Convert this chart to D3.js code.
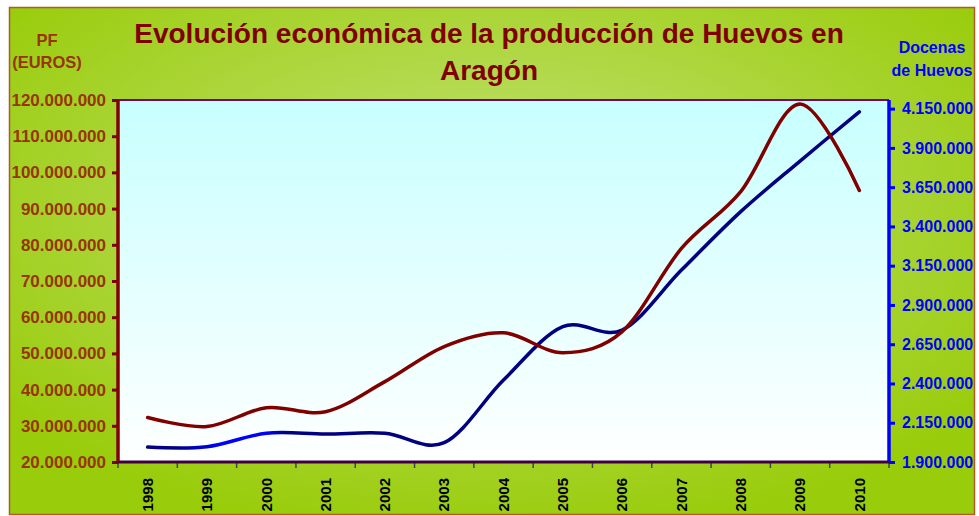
<!DOCTYPE html>
<html lang="es">
<head>
  <meta charset="UTF-8">
  <title>Evolución económica de la producción de Huevos en Aragón</title>
  <script src="https://d3js.org/d3.v7.min.js"></script>
  <style>
    body { margin: 0; background: #fff; }
    text { font-family: "Liberation Sans", Arial, sans-serif; font-weight: bold; }
  </style>
</head>
<body>
  <svg id="chart" width="979" height="516"></svg>

  <script>
    // Data
    const years = ["1998", "1999", "2000", "2001", "2002", "2003", "2004",
                   "2005", "2006", "2007", "2008", "2009", "2010"];
    // PF in euros (left axis)
    const pfEuros = [32300000, 29800000, 35000000, 33900000, 42200000, 51900000, 55700000,
                     50200000, 56000000, 79000000, 94700000, 118900000, 95000000];
    // Dozens of eggs (right axis)
    const docenas = [1995000, 1997000, 2083000, 2078000, 2083000, 2023000, 2422000,
                     2762000, 2740000, 3122000, 3494000, 3816000, 4130000];
    const leftTicks = [20000000, 30000000, 40000000, 50000000, 60000000, 70000000,
                       80000000, 90000000, 100000000, 110000000, 120000000];
    const rightTicks = [1900000, 2150000, 2400000, 2650000, 2900000, 3150000,
                        3400000, 3650000, 3900000, 4150000];

    const width = 979, height = 516;
    const plot = { left: 118, right: 889, top: 100, bottom: 462 };

    const svg = d3.select("#chart");
    const defs = svg.append("defs");

    // background gradients
    const bg = defs.append("radialGradient").attr("id", "bgGrad")
      .attr("cx", "50%").attr("cy", "40%").attr("r", "65%");
    bg.append("stop").attr("offset", "0%").attr("stop-color", "#c4e27a");
    bg.append("stop").attr("offset", "100%").attr("stop-color", "#99cc0a");

    const pg = defs.append("linearGradient").attr("id", "plotGrad")
      .attr("x1", 0).attr("y1", 0).attr("x2", 0).attr("y2", 1);
    pg.append("stop").attr("offset", "0%").attr("stop-color", "#c8ffff");
    pg.append("stop").attr("offset", "100%").attr("stop-color", "#ffffff");

    // blue line is brighter between 1999 and 2000
    const lg = defs.append("linearGradient").attr("id", "blueGrad")
      .attr("gradientUnits", "userSpaceOnUse")
      .attr("x1", plot.left).attr("x2", plot.right).attr("y1", 0).attr("y2", 0);

    svg.append("rect")
      .attr("x", 9.5).attr("y", 7.5).attr("width", 965).attr("height", 507)
      .attr("fill", "url(#bgGrad)").attr("stroke", "#b05a28").attr("stroke-width", 1.5);

    // scales
    const x = d3.scaleBand().domain(years).range([plot.left, plot.right]);
    const yL = d3.scaleLinear().domain([20000000, 120000000]).range([plot.bottom, plot.top]);
    const yR = d3.scaleLinear().domain([1900000, 4205000]).range([plot.bottom, plot.top]);
    const cx = d => x(d) + x.bandwidth() / 2;

    const xa = x(years[1]) + x.bandwidth() * 0.7, xb = x(years[2]) + x.bandwidth() * 0.5;
    const frac = v => (v - plot.left) / (plot.right - plot.left) * 100 + "%";
    [[0, "#000080"], [frac(x(years[1])), "#000080"], [frac(xa), "#0000ff"],
     [frac(xb), "#0000ff"], [frac(xb + 20), "#000080"], ["100%", "#000080"]]
      .forEach(s => lg.append("stop").attr("offset", s[0]).attr("stop-color", s[1]));

    // plot area
    svg.append("rect")
      .attr("x", plot.left).attr("y", plot.top)
      .attr("width", plot.right - plot.left).attr("height", plot.bottom - plot.top)
      .attr("fill", "url(#plotGrad)");
    svg.append("line")
      .attr("x1", plot.left).attr("x2", plot.right)
      .attr("y1", plot.top).attr("y2", plot.top)
      .attr("stroke", "#6a0a6a").attr("stroke-width", 2);

    const fmt = d => d3.format(",")(d).replace(/,/g, ".");

    // x axis
    const xAxis = svg.append("g")
      .attr("transform", `translate(0,${plot.bottom})`)
      .call(d3.axisBottom(x).tickSize(0).tickPadding(0));
    xAxis.select(".domain").remove();
    svg.append("g").selectAll("line")
      .data(years.concat(["end"]))
      .join("line")
      .attr("x1", (d, i) => plot.left + i * x.bandwidth())
      .attr("x2", (d, i) => plot.left + i * x.bandwidth())
      .attr("y1", plot.bottom).attr("y2", plot.bottom + 6)
      .attr("stroke", "#444").attr("stroke-width", 1.5);
    svg.append("line")
      .attr("x1", plot.left).attr("x2", plot.right)
      .attr("y1", plot.bottom).attr("y2", plot.bottom)
      .attr("stroke", "#3c0040").attr("stroke-width", 3);
    xAxis.selectAll(".tick text")
      .attr("transform", "rotate(-90)")
      .attr("x", -16).attr("y", 0).attr("dy", "0.35em")
      .attr("text-anchor", "end")
      .attr("fill", "#000")
      .style("font-size", "15px")
      .style("font-family", "'Liberation Sans', Arial, sans-serif")
      .style("font-weight", "bold");

    // left axis
    const leftAxis = svg.append("g")
      .attr("transform", `translate(${plot.left},0)`)
      .call(d3.axisLeft(yL).tickValues(leftTicks).tickSize(6).tickPadding(6).tickFormat(fmt));
    leftAxis.select(".domain").attr("stroke", "#800000").attr("stroke-width", 3.5)
      .attr("d", `M0,${plot.top}V${plot.bottom}`);
    leftAxis.selectAll(".tick line").attr("stroke", "#800000").attr("stroke-width", 3);
    leftAxis.selectAll(".tick text")
      .attr("fill", "#993300")
      .style("font-size", "17px")
      .style("font-family", "'Liberation Sans', Arial, sans-serif")
      .style("font-weight", "bold");

    // right axis
    const rightAxis = svg.append("g")
      .attr("transform", `translate(${plot.right},0)`)
      .call(d3.axisRight(yR).tickValues(rightTicks).tickSize(6).tickPadding(7).tickFormat(fmt));
    rightAxis.select(".domain").attr("stroke", "#0000ff").attr("stroke-width", 3.5)
      .attr("d", `M0,${plot.top}V${plot.bottom}`);
    rightAxis.selectAll(".tick line").attr("stroke", "#0000ff").attr("stroke-width", 3);
    rightAxis.selectAll(".tick text")
      .attr("fill", "#0000ff")
      .style("font-size", "16px")
      .style("font-family", "'Liberation Sans', Arial, sans-serif")
      .style("font-weight", "bold");

    // lines (smoothed like the spreadsheet)
    const curve = d3.curveCardinal.tension(0);
    svg.append("path")
      .datum(docenas)
      .attr("fill", "none")
      .attr("stroke", "url(#blueGrad)")
      .attr("stroke-width", 3.5)
      .attr("stroke-linecap", "round")
      .attr("d", d3.line().x((d, i) => cx(years[i])).y(d => yR(d)).curve(curve));

    svg.append("path")
      .datum(pfEuros)
      .attr("fill", "none")
      .attr("stroke", "#800000")
      .attr("stroke-width", 3.5)
      .attr("stroke-linecap", "round")
      .attr("d", d3.line().x((d, i) => cx(years[i])).y(d => yL(d)).curve(curve));

    // title
    svg.append("text")
      .attr("x", 489).attr("y", 43)
      .attr("text-anchor", "middle")
      .attr("fill", "#800000")
      .style("font-size", "28px")
      .text("Evolución económica de la producción de Huevos en");
    svg.append("text")
      .attr("x", 489).attr("y", 80)
      .attr("text-anchor", "middle")
      .attr("fill", "#800000")
      .style("font-size", "28px")
      .text("Aragón");

    // axis titles
    svg.append("text")
      .attr("x", 47).attr("y", 46)
      .attr("text-anchor", "middle").attr("fill", "#993300")
      .style("font-size", "16.5px").text("PF");
    svg.append("text")
      .attr("x", 47).attr("y", 68)
      .attr("text-anchor", "middle").attr("fill", "#993300")
      .style("font-size", "16.5px").text("(EUROS)");

    svg.append("text")
      .attr("x", 932).attr("y", 53)
      .attr("text-anchor", "middle").attr("fill", "#0000ff")
      .style("font-size", "16px").text("Docenas");
    svg.append("text")
      .attr("x", 932).attr("y", 76)
      .attr("text-anchor", "middle").attr("fill", "#0000ff")
      .style("font-size", "16px").text("de Huevos");
  </script>
</body>
</html>
